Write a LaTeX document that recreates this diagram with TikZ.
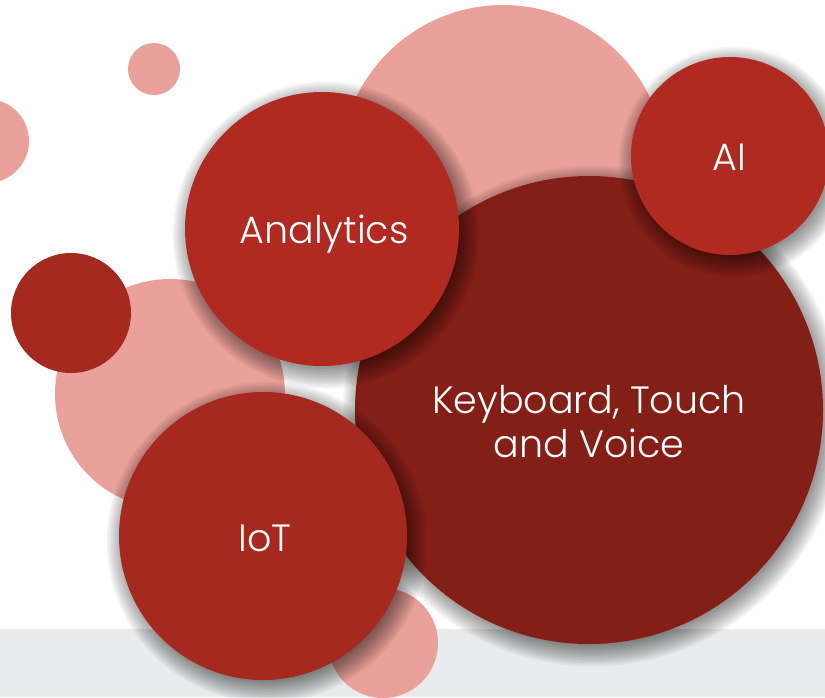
\documentclass[tikz,border=0pt]{standalone}
\usepackage{fontspec}
\setmainfont{Poppins Light}
\definecolor{bubpink}{HTML}{EBA19B}
\definecolor{bubred}{HTML}{B02A21}
\definecolor{bubdeep}{HTML}{A6291F}
\definecolor{bubdark}{HTML}{841F18}
\definecolor{bandgray}{HTML}{E8ECEC}
% soft shadow under a bubble: centre x, centre y, radius
\newcommand{\softshadow}[3]{%
  \foreach \k in {0,...,19}
    \fill[black,opacity=0.035] (#1+4,#2+6) circle[radius={(#3-12+1.5*\k)*1pt}];}
\begin{document}
\begin{tikzpicture}
           [x=1pt,y=-1pt,
            bubble/.style={circle,inner sep=0pt,minimum size=#1},
            bubtext/.style={text=white,font=\fontsize{38}{44}\selectfont,align=center,anchor=base}]
           \useasboundingbox (0,0) rectangle (825,697);
           \fill[bandgray] (0,629) rectangle (825,697);

           \node[bubble=52pt,fill=bubpink] (dotA) at (154,69) {};
           \node[bubble=84pt,fill=bubpink] (dotB) at (-13,141) {};
           \node[bubble=326pt,fill=bubpink] (back) at (503,168) {};
           \node[bubble=230pt,fill=bubpink] (side) at (170,394) {};
           \node[bubble=110pt,fill=bubpink] (dotC) at (383,643) {};
           \node[bubble=120pt,fill=bubdeep] (dotD) at (71,313) {};

           \softshadow{589}{410}{234}
           \node[bubble=468pt,fill=bubdark] (kbd) at (589,410) {};
           \softshadow{322}{229}{137}
           \node[bubble=274pt,fill=bubred] (ana) at (322,229) {};
           \softshadow{730}{156}{99}
           \node[bubble=198pt,fill=bubred] (ai) at (730,156) {};
           \softshadow{263}{536}{144}
           \node[bubble=288pt,fill=bubdeep] (iot) at (263,536) {};

           \node[bubtext] (anatext) at (324,243) {Analytics};
           \node[bubtext] (aitext) at (729,170) {AI};
           \node[bubtext] (iottext) at (265,551) {IoT};
           \node[bubtext] (kbdtext) at (589,457) {Keyboard, Touch\\and Voice};
         \end{tikzpicture}
\end{document}
